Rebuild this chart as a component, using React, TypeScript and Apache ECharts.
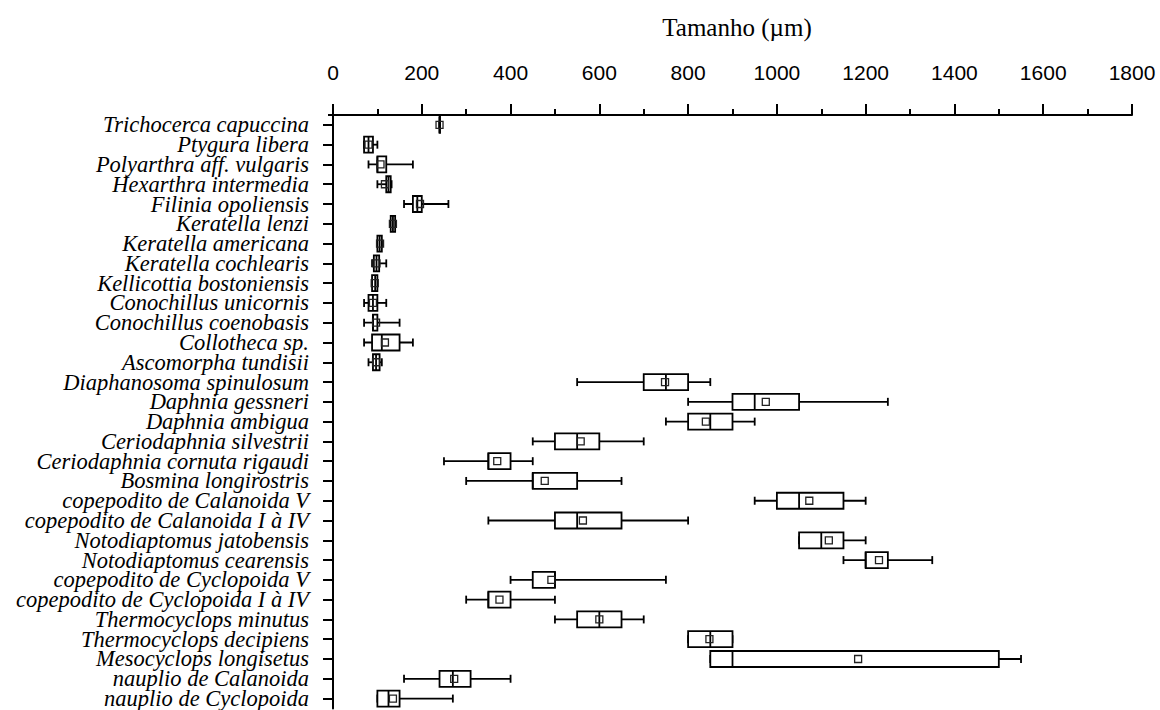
import { useEffect, useRef } from "react";
import * as echarts from "echarts";

// Species / developmental stages, top to bottom
const categories = [
  "Trichocerca capuccina",
  "Ptygura libera",
  "Polyarthra aff. vulgaris",
  "Hexarthra intermedia",
  "Filinia opoliensis",
  "Keratella lenzi",
  "Keratella americana",
  "Keratella cochlearis",
  "Kellicottia bostoniensis",
  "Conochillus unicornis",
  "Conochillus coenobasis",
  "Collotheca sp.",
  "Ascomorpha tundisii",
  "Diaphanosoma spinulosum",
  "Daphnia gessneri",
  "Daphnia ambigua",
  "Ceriodaphnia silvestrii",
  "Ceriodaphnia cornuta rigaudi",
  "Bosmina longirostris",
  "copepodito de Calanoida V",
  "copepodito de Calanoida I à IV",
  "Notodiaptomus jatobensis",
  "Notodiaptomus cearensis",
  "copepodito de Cyclopoida V",
  "copepodito de Cyclopoida I à IV",
  "Thermocyclops minutus",
  "Thermocyclops decipiens",
  "Mesocyclops longisetus",
  "nauplio de Calanoida",
  "nauplio de Cyclopoida",
];

// Body size (µm): whisker ends, quartiles, median and mean
const minValues = [240, 70, 80, 100, 160, 130, 100, 88, 88, 70, 70, 70, 80, 550, 800, 750, 450, 250, 300, 950, 350, 1050, 1150, 400, 300, 500, 800, 850, 160, 100];
const q1Values = [240, 70, 100, 120, 180, 130, 100, 92, 88, 80, 90, 88, 90, 700, 900, 800, 500, 350, 450, 1000, 500, 1050, 1200, 450, 350, 550, 800, 850, 240, 100];
const medianValues = [240, 80, 100, 125, 190, 135, 105, 98, 95, 90, 90, 110, 97, 750, 950, 850, 550, 350, 450, 1050, 550, 1100, 1200, 500, 350, 600, 850, 900, 270, 125];
const q3Values = [240, 90, 120, 130, 200, 140, 110, 104, 100, 100, 100, 150, 105, 800, 1050, 900, 600, 400, 550, 1150, 650, 1150, 1250, 500, 400, 650, 900, 1500, 310, 150];
const maxValues = [240, 100, 180, 132, 260, 140, 110, 120, 100, 120, 150, 180, 110, 850, 1250, 950, 700, 450, 650, 1200, 800, 1200, 1350, 750, 500, 700, 900, 1550, 400, 270];
const meanValues = [240, 80, 107, 117, 196, 135, 106, 98, 94, 90, 97, 117, 97, 748, 975, 840, 558, 370, 477, 1073, 563, 1117, 1230, 492, 375, 600, 848, 1183, 273, 135];

const xTicks = { min: 0, max: 1800, interval: 200 };
const axisTitle = "Tamanho (µm)";

const BOX_H = 16;
const CAP_H = 4;
const MEAN_S = 7;
const LW = 1.8;

function renderBox(params: any, api: any) {
  const cat = api.value(0);
  const pMin = api.coord([api.value(1), cat]);
  const pQ1 = api.coord([api.value(2), cat]);
  const pMed = api.coord([api.value(3), cat]);
  const pQ3 = api.coord([api.value(4), cat]);
  const pMax = api.coord([api.value(5), cat]);
  const pMean = api.coord([api.value(6), cat]);
  const y = pMin[1];
  const stroke = { stroke: "#000", lineWidth: LW, fill: "none" };
  return {
    type: "group",
    children: [
      { type: "line", shape: { x1: pMin[0], y1: y, x2: pMax[0], y2: y }, style: stroke },
      { type: "line", shape: { x1: pMin[0], y1: y - CAP_H, x2: pMin[0], y2: y + CAP_H }, style: stroke },
      { type: "line", shape: { x1: pMax[0], y1: y - CAP_H, x2: pMax[0], y2: y + CAP_H }, style: stroke },
      {
        type: "rect",
        shape: { x: pQ1[0], y: y - BOX_H / 2, width: Math.max(pQ3[0] - pQ1[0], 0.5), height: BOX_H },
        style: { stroke: "#000", lineWidth: LW, fill: "#fff" },
      },
      { type: "line", shape: { x1: pMed[0], y1: y - BOX_H / 2, x2: pMed[0], y2: y + BOX_H / 2 }, style: stroke },
      {
        type: "rect",
        shape: { x: pMean[0] - MEAN_S / 2, y: y - MEAN_S / 2, width: MEAN_S, height: MEAN_S },
        style: { stroke: "#222", lineWidth: 1.3, fill: "none" },
      },
    ],
  };
}

export default function App() {
  const ref = useRef<HTMLDivElement>(null);

  useEffect(() => {
    if (!ref.current) return;
    const chart = echarts.init(ref.current, null, { renderer: "svg" });
    const data = categories.map((_, i) => [
      i,
      minValues[i],
      q1Values[i],
      medianValues[i],
      q3Values[i],
      maxValues[i],
      meanValues[i],
    ]);

    chart.setOption({
      animation: false,
      backgroundColor: "#ffffff",
      grid: { left: 333, right: 28, top: 115, height: 597, containLabel: false },
      graphic: [
        {
          type: "text",
          x: 737,
          y: 27,
          style: {
            text: axisTitle,
            fill: "#000",
            font: "25px 'Liberation Serif'",
            textAlign: "center",
            textVerticalAlign: "middle",
          },
        },
        {
          // joins the top axis to the offset left axis
          type: "line",
          shape: { x1: 328, y1: 115, x2: 334, y2: 115 },
          style: { stroke: "#000", lineWidth: 2 },
        },
      ],
      xAxis: {
        type: "value",
        position: "top",
        min: xTicks.min,
        max: xTicks.max,
        interval: xTicks.interval,
        axisLine: { show: true, lineStyle: { color: "#000", width: 2 } },
        axisTick: { show: true, inside: false, length: 11, lineStyle: { color: "#000", width: 2 } },
        minorTick: { show: true, splitNumber: 2, length: 6, lineStyle: { color: "#000", width: 2 } },
        splitLine: { show: false },
        minorSplitLine: { show: false },
        axisLabel: {
          color: "#000",
          fontFamily: "Liberation Sans",
          fontSize: 21,
          margin: 32,
          formatter: (v: number) => String(v),
        },
      },
      yAxis: {
        type: "category",
        inverse: true,
        data: categories,
        offset: 4,
        axisLine: { show: true, lineStyle: { color: "#000", width: 2 } },
        axisTick: { show: true, alignWithLabel: true, length: 10, lineStyle: { color: "#000", width: 2 } },
        axisLabel: {
          color: "#000",
          fontFamily: "Liberation Serif",
          fontStyle: "italic",
          fontSize: 22.5,
          lineHeight: 19,
          margin: 20,
          interval: 0,
        },
        splitLine: { show: false },
      },
      series: [
        {
          type: "custom",
          renderItem: renderBox,
          data,
          encode: { x: [1, 2, 3, 4, 5, 6], y: 0 },
          clip: false,
        },
      ],
    });

    return () => chart.dispose();
  }, []);

  return (
    <div
      ref={ref}
      style={{ position: "absolute", left: 0, top: 0, width: 1160, height: 710, background: "#fff" }}
    />
  );
}
